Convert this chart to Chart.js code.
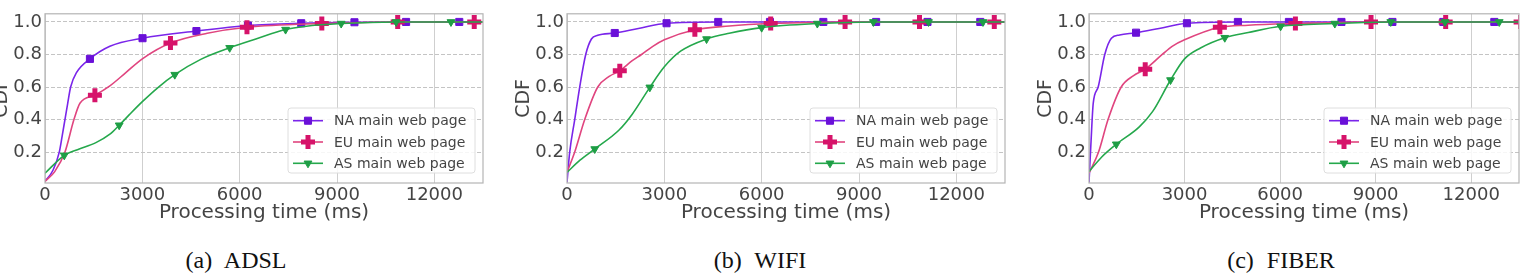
<!DOCTYPE html>
<html>
<head>
<meta charset="utf-8">
<script src="https://cdn.jsdelivr.net/npm/chart.js@4.4.0/dist/chart.umd.min.js"></script>
<style>
  body { margin: 0; width: 1526px; height: 278px; overflow: hidden; background: #fff; position: relative; }
  canvas { position: absolute; top: 0; }
  .cap { position: absolute; top: 247px; line-height: 26px; font-family: "Liberation Serif", "Times New Roman", serif;
         font-size: 24px; color: #111; transform: translateX(-50%); white-space: nowrap; word-spacing: 7px; }
</style>
</head>
<body>
<canvas id="adsl" width="496" height="225" style="left:-9px"></canvas>
<canvas id="wifi" width="496" height="225" style="left:513px"></canvas>
<canvas id="fiber" width="496" height="225" style="left:1035px"></canvas>
<div class="cap" style="left:236px">(a) ADSL</div>
<div class="cap" style="left:760px">(b) WIFI</div>
<div class="cap" style="left:1281px">(c) FIBER</div>
<script>
// axis ticks
const xTicks = [0, 3000, 6000, 9000, 12000];
const yTicks = [0.2, 0.4, 0.6, 0.8, 1.0];
const seriesNames = ['NA main web page', 'EU main web page', 'AS main web page'];

// ADSL  [time ms, cdf]
const adslNA = [[0,0.02],[250,0.09],[440,0.2],[530,0.3],[615,0.4],[700,0.5],[790,0.6],[975,0.69],[1385,0.773],[2000,0.85],[3006,0.9],[4667,0.944],[6255,0.978],[7898,0.992],[9538,0.998],[11129,1],[12769,1],[13500,1]];
const adslEU = [[0,0.02],[300,0.08],[615,0.2],[892,0.4],[1077,0.5],[1538,0.55],[2000,0.607],[2500,0.69],[3000,0.773],[3867,0.87],[5000,0.93],[6225,0.967],[8532,0.99],[10871,1],[13230,1],[13500,1]];
const adslAS = [[0,0.07],[594,0.18],[1000,0.215],[1569,0.258],[2000,0.31],[2287,0.365],[2600,0.43],[3000,0.51],[3500,0.6],[4000,0.676],[4800,0.77],[5692,0.841],[6500,0.895],[7415,0.953],[8000,0.972],[9129,0.99],[10821,1],[12513,1],[13500,1]];
const adslMarksNA = [1385, 3006, 4667, 6255, 7898, 9538, 11129, 12769];
const adslMarksEU = [1538, 3867, 6225, 8532, 10871, 13230];
const adslMarksAS = [594, 2287, 4000, 5692, 7415, 9129, 10821, 12513];

// WIFI
const wifiNA = [[0,0.015],[83,0.2],[238,0.4],[392,0.6],[577,0.8],[753,0.895],[948,0.918],[1472,0.932],[2200,0.96],[3068,0.992],[4661,1],[6256,1],[7901,1],[9528,1],[11111,1],[12738,1],[13500,1]];
const wifiEU = [[0,0.075],[238,0.2],[546,0.4],[948,0.6],[1300,0.665],[1627,0.7],[2000,0.76],[2296,0.8],[2645,0.85],[3000,0.89],[3941,0.952],[5000,0.975],[6278,0.99],[8571,1],[10864,1],[13170,1],[13500,1]];
const wifiAS = [[0,0.075],[400,0.15],[855,0.219],[1605,0.336],[2000,0.43],[2553,0.598],[3000,0.724],[3500,0.82],[4302,0.895],[5000,0.93],[6000,0.965],[7716,0.99],[9444,1],[11142,1],[12821,1],[13500,1]];
const wifiMarksNA = [1472, 3068, 4661, 6256, 7901, 9528, 11111, 12738];
const wifiMarksEU = [1627, 3941, 6278, 8571, 10864, 13170];
const wifiMarksAS = [855, 2553, 4302, 6000, 7716, 9444, 11142, 12821];

// FIBER
const fiberNA = [[0,0.015],[60,0.25],[133,0.5],[288,0.6],[495,0.8],[703,0.9],[960,0.92],[1477,0.934],[2200,0.96],[3074,0.992],[4675,1],[6276,1],[7926,1],[9526,1],[11124,1],[12725,1],[13500,1]];
const fiberEU = [[0,0.07],[300,0.2],[598,0.4],[1012,0.6],[1400,0.67],[1765,0.709],[2300,0.8],[2610,0.85],[3000,0.89],[4108,0.967],[5000,0.98],[6480,0.99],[8854,1],[11198,1],[13550,1]];
const fiberAS = [[0,0.08],[400,0.17],[857,0.248],[1579,0.355],[2000,0.45],[2560,0.643],[3000,0.773],[3500,0.84],[4263,0.903],[5000,0.935],[6016,0.973],[7718,0.99],[9474,1],[11176,1],[12879,1],[13500,1]];
const fiberMarksNA = [1477, 3074, 4675, 6276, 7926, 9526, 11124, 12725];
const fiberMarksEU = [1765, 4108, 6480, 8854, 11198, 13550];
const fiberMarksAS = [857, 2560, 4263, 6016, 7718, 9474, 11176, 12879];

const styles = [
  { line: '#7a25ea', mark: '#6a10d8', pointStyle: 'rect', radius: 5, border: 1, rotation: 0, order: 3 },
  { line: '#e0457f', mark: '#d6136a', pointStyle: 'cross', radius: 7, border: 5, rotation: 0, order: 2 },
  { line: '#25a84c', mark: '#1e9e45', pointStyle: 'triangle', radius: 4.5, border: 1, rotation: 180, order: 1 }
];

const font = 'DejaVu Sans';
const textColor = '#444';

// frame + legend box drawn on top of the plot
const framePlugin = {
  id: 'frameLegend',
  afterDraw(chart) {
    const { ctx, chartArea: a } = chart;
    ctx.save();
    ctx.strokeStyle = '#b4b4b4';
    ctx.lineWidth = 1.2;
    ctx.strokeRect(a.left, a.top, a.right - a.left, a.bottom - a.top);

    const w = 187, h = 65;
    const x = a.right - 8 - w, y = a.bottom - 10 - h;
    ctx.beginPath();
    ctx.roundRect(x, y, w, h, 3);
    ctx.fillStyle = 'rgba(255,255,255,0.85)';
    ctx.fill();
    ctx.strokeStyle = '#dedede';
    ctx.lineWidth = 1;
    ctx.stroke();

    ctx.font = '14px "' + font + '"';
    ctx.textBaseline = 'middle';
    seriesNames.forEach((name, i) => {
      const s = styles[i];
      const cy = y + 12.7 + i * 21.3;
      ctx.strokeStyle = s.line;
      ctx.lineWidth = 1.6;
      ctx.beginPath();
      ctx.moveTo(x + 5, cy);
      ctx.lineTo(x + 35, cy);
      ctx.stroke();
      ctx.fillStyle = s.mark;
      ctx.strokeStyle = s.mark;
      ctx.lineWidth = s.border;
      Chart.helpers.drawPoint(ctx, { pointStyle: s.pointStyle, rotation: s.rotation, radius: s.radius, borderWidth: s.border }, x + 20, cy);
      ctx.fillStyle = textColor;
      ctx.fillText(name, x + 46, cy + 1);
    });
    ctx.restore();
  }
};

function makeDataset(i, pts, marks) {
  const s = styles[i];
  return {
    label: seriesNames[i],
    data: pts.map(p => ({ x: p[0], y: p[1] })),
    borderColor: s.line,
    backgroundColor: s.mark,
    borderWidth: 1.6,
    cubicInterpolationMode: 'monotone',
    tension: 0.4,
    pointStyle: s.pointStyle,
    pointRotation: s.rotation,
    pointRadius: c => marks.includes(c.raw.x) ? s.radius : 0,
    pointBorderColor: s.mark,
    pointBorderWidth: s.border,
    order: s.order
  };
}

function makeChart(id, na, eu, as, mNA, mEU, mAS) {
  new Chart(document.getElementById(id), {
    type: 'line',
    data: {
      datasets: [makeDataset(0, na, mNA), makeDataset(1, eu, mEU), makeDataset(2, as, mAS)]
    },
    options: {
      responsive: false,
      animation: false,
      layout: { padding: { top: 4, right: 4, left: 0, bottom: 0 } },
      plugins: { legend: { display: false }, tooltip: { enabled: false } },
      scales: {
        x: {
          type: 'linear', min: 0, max: 13500,
          afterBuildTicks: s => { s.ticks = xTicks.map(v => ({ value: v })); },
          afterFit: s => { s.height = 42; },
          ticks: { font: { family: font, size: 18 }, color: textColor, padding: 2, maxRotation: 0, autoSkip: false,
                   callback: v => String(v) },
          grid: { color: '#cfcfcf', drawTicks: false, lineWidth: 1 },
          border: { display: false },
          title: { display: true, text: 'Processing time (ms)', font: { family: font, size: 20 }, color: textColor, padding: 0 }
        },
        y: {
          type: 'linear', min: 0.01, max: 1.05,
          afterBuildTicks: s => { s.ticks = yTicks.map(v => ({ value: v })); },
          afterFit: s => { s.width = 54; },
          ticks: { font: { family: font, size: 18 }, color: textColor, padding: 3, callback: v => v.toFixed(1) },
          grid: { color: '#c4c4c4', drawTicks: false, lineWidth: 1 },
          border: { display: false, dash: [4, 2] },
          title: { display: true, text: 'CDF', font: { family: font, size: 19 }, color: textColor, padding: 0 }
        }
      }
    },
    plugins: [framePlugin]
  });
}

makeChart('adsl', adslNA, adslEU, adslAS, adslMarksNA, adslMarksEU, adslMarksAS);
makeChart('wifi', wifiNA, wifiEU, wifiAS, wifiMarksNA, wifiMarksEU, wifiMarksAS);
makeChart('fiber', fiberNA, fiberEU, fiberAS, fiberMarksNA, fiberMarksEU, fiberMarksAS);
</script>
</body>
</html>
